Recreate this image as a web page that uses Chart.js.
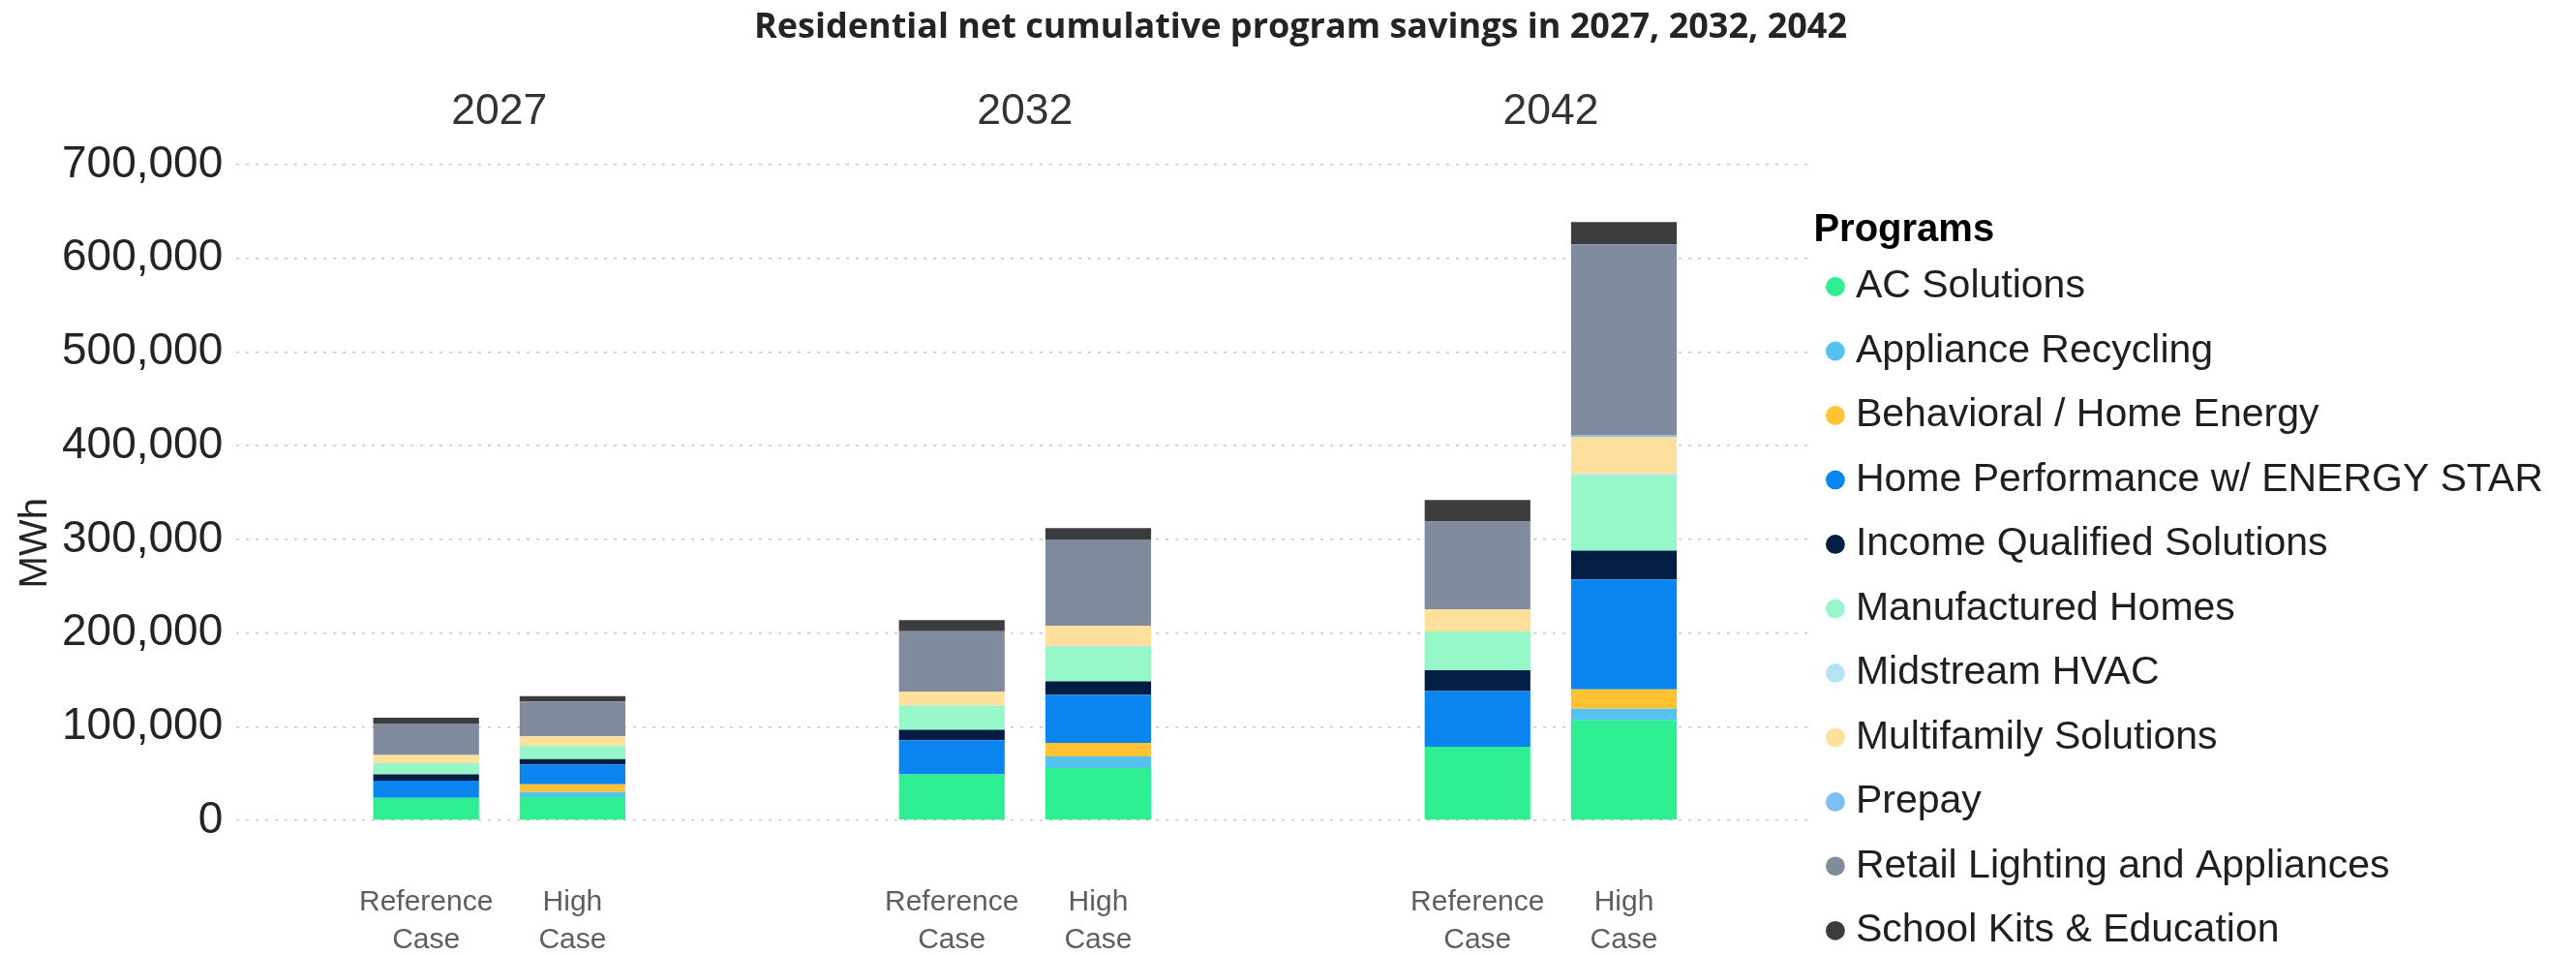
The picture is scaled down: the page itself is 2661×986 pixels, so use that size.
<!DOCTYPE html>
<html>
<head>
<meta charset="utf-8">
<title>Residential net cumulative program savings</title>
<script src="https://cdn.jsdelivr.net/npm/chart.js@4/dist/chart.umd.min.js"></script>
<style>
  html, body { margin: 0; padding: 0; background: #fff; }
  #wrap { width: 2661px; height: 986px; }
</style>
</head>
<body>
<div id="wrap"><canvas id="savingsChart" width="2661" height="986"></canvas></div>
<script>
// Years on the top axis, cases drawn under each bar
const years = ['2027', '2032', '2042'];
const caseNames = ['Reference Case', 'High Case'];

const programs = [
  'AC Solutions',
  'Appliance Recycling',
  'Behavioral / Home Energy',
  'Home Performance w/ ENERGY STAR',
  'Income Qualified Solutions',
  'Manufactured Homes',
  'Midstream HVAC',
  'Multifamily Solutions',
  'Prepay',
  'Retail Lighting and Appliances',
  'School Kits & Education'
];

const programColors = [
  '#2DEF92', '#55C3F0', '#FFC233', '#0A85F0', '#031E45', '#96F7C8',
  '#B5E3F5', '#FDE09B', '#7FBDF2', '#808C9D', '#3C3B3E'
];

// MWh per year, [reference case, high case]
const acSolutions        = [[24100, 49000, 78500], [24800, 55900, 106700]];
const applianceRecycling = [[0, 0, 0],             [5500, 12400, 12400]];
const behavioral         = [[0, 0, 0],             [8300, 14500, 20700]];
const homePerformance    = [[18300, 36600, 59600], [21000, 51000, 117300]];
const incomeQualified    = [[6600, 11000, 22100],  [5900, 14500, 30900]];
const manufacturedHomes  = [[12100, 25900, 41500], [13800, 36900, 80300]];
const midstreamHvac      = [[0, 0, 0],             [0, 800, 1500]];
const multifamily        = [[8600, 14800, 23400],  [10300, 21700, 39700]];
const prepay             = [[0, 0, 0],             [0, 0, 1500]];
const retailLighting     = [[33800, 64500, 94000], [37200, 92100, 204000]];
const schoolKits         = [[6200, 12100, 22900],  [5900, 12100, 23800]];

const programSeries = [
  acSolutions, applianceRecycling, behavioral, homePerformance, incomeQualified,
  manufacturedHomes, midstreamHvac, multifamily, prepay, retailLighting, schoolKits
];

const yTicks = [0, 100000, 200000, 300000, 400000, 500000, 600000, 700000];

const FONT = '"Liberation Sans", Arial, sans-serif';

// one stack per case, programs stacked bottom-up in list order
const datasets = [];
caseNames.forEach((caseName, c) => {
  programs.forEach((name, p) => {
    datasets.push({
      label: name,
      data: programSeries[p][c],
      backgroundColor: programColors[p],
      borderWidth: 0,
      stack: caseName,
      xAxisID: 'x',
      yAxisID: 'y',
      categoryPercentage: 0.557,
      barPercentage: 0.722
    });
  });
});

// case names under the bars and the rotated value-axis title
const caseLabelPlugin = {
  id: 'caseLabels',
  afterDraw(chart) {
    const { ctx, chartArea } = chart;
    const firstLine = chartArea.bottom + 85;
    const lineGap = 39;
    ctx.save();
    ctx.font = '30px ' + FONT;
    ctx.fillStyle = '#605E5C';
    ctx.textAlign = 'center';
    ctx.textBaseline = 'middle';
    caseNames.forEach((name, c) => {
      const meta = chart.getDatasetMeta(c * programs.length);
      const lines = name.split(' ');
      meta.data.forEach(bar => {
        lines.forEach((line, i) => ctx.fillText(line, bar.x, firstLine + i * lineGap));
      });
    });

    const labelBlockMid = firstLine + lineGap / 2;
    ctx.translate(37, (chartArea.top + labelBlockMid) / 2);
    ctx.rotate(-Math.PI / 2);
    ctx.font = '40px ' + FONT;
    ctx.fillStyle = '#252423';
    ctx.fillText('MWh', 0, 0);
    ctx.restore();
  }
};

new Chart(document.getElementById('savingsChart'), {
  type: 'bar',
  data: { labels: years, datasets },
  plugins: [caseLabelPlugin],
  options: {
    responsive: false,
    animation: false,
    devicePixelRatio: 1,
    layout: { padding: { left: 50, right: 24, top: 0, bottom: -30 } },
    plugins: {
      tooltip: { enabled: false },
      title: {
        display: true,
        text: 'Residential net cumulative program savings in 2027, 2032, 2042',
        color: '#252423',
        font: { family: '"Open Sans", "Noto Sans", sans-serif', size: 36, weight: 'bold', lineHeight: 1.2 },
        padding: { top: 7.4, bottom: 9 }
      },
      legend: {
        position: 'right',
        align: 'start',
        maxWidth: 800,
        title: {
          display: true,
          text: 'Programs',
          position: 'start',
          color: '#000',
          font: { family: FONT, size: 40, weight: 'bold', lineHeight: 0.8 },
          padding: { top: 218, bottom: 3.5 }
        },
        labels: {
          usePointStyle: true,
          pointStyle: 'circle',
          boxWidth: 1,
          boxHeight: 14,
          padding: 22,
          color: '#1F1F1F',
          font: { family: FONT, size: 41, lineHeight: 1.085 },
          filter: item => item.datasetIndex < programs.length,
          generateLabels: chart => Chart.defaults.plugins.legend.labels.generateLabels(chart)
            .map(item => Object.assign(item, { text: [item.text], lineWidth: 0 }))
        }
      }
    },
    scales: {
      x: {
        position: 'top',
        stacked: true,
        grid: { display: false },
        border: { display: false },
        ticks: { color: '#333', padding: 20, font: { family: FONT, size: 44.5 } },
        afterFit: scale => { scale.height = 110.4; }
      },
      x2: {
        type: 'category',
        position: 'bottom',
        grid: { display: false },
        border: { display: false },
        ticks: { display: false },
        afterFit: scale => { scale.height = 169; }
      },
      y: {
        stacked: true,
        min: 0,
        max: 700000,
        afterBuildTicks: scale => { scale.ticks = yTicks.map(v => ({ value: v })); },
        grid: { color: '#C8C8C8', lineWidth: 1.5, drawTicks: false },
        border: { display: false, dash: [3, 7] },
        ticks: {
          color: '#252423',
          padding: 14,
          font: { family: FONT, size: 46 },
          callback: v => v.toLocaleString('en-US')
        }
      }
    }
  }
});
</script>
</body>
</html>
